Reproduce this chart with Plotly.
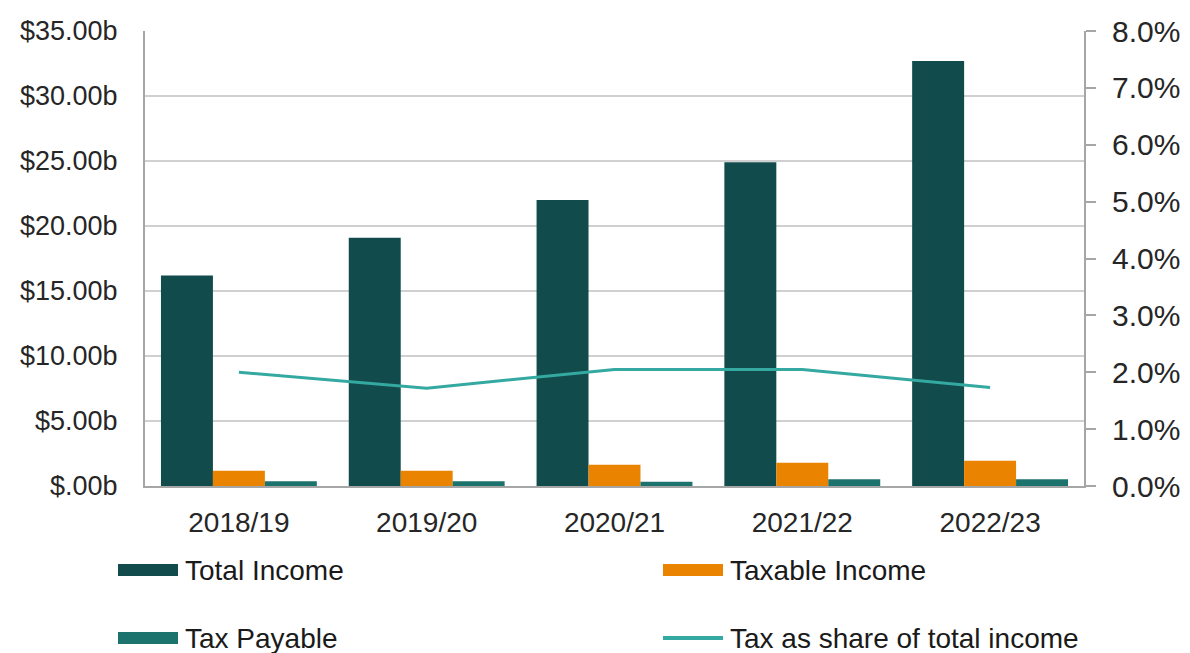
import plotly.graph_objects as go

# ---- data ----
years = ["2018/19", "2019/20", "2020/21", "2021/22", "2022/23"]
total_income = [16.2, 19.1, 22.0, 24.9, 32.7]      # $ billions
taxable_income = [1.17, 1.17, 1.63, 1.78, 1.94]    # $ billions
tax_payable = [0.36, 0.36, 0.33, 0.51, 0.51]       # $ billions
tax_share = [0.0200, 0.0172, 0.0205, 0.0205, 0.0173]

left_tickvals = [0, 5, 10, 15, 20, 25, 30, 35]
left_ticktext = ["$.00b", "$5.00b", "$10.00b", "$15.00b", "$20.00b",
                 "$25.00b", "$30.00b", "$35.00b"]

names = ["Total Income", "Taxable Income", "Tax Payable", "Tax as share of total income"]
colors = ["#114B4B", "#E98300", "#1C736D", "#33A9A1"]

FONT = "Liberation Sans, Arial, sans-serif"
W, H = 1190, 653
ML, MR, MT, MB = 145, 106, 31, 167

fig = go.Figure()
for vals, nm, col in zip([total_income, taxable_income, tax_payable], names[:3], colors[:3]):
    fig.add_trace(go.Bar(x=years, y=vals, name=nm, marker=dict(color=col, line=dict(width=0)),
                         showlegend=False))
fig.add_trace(go.Scatter(x=years, y=tax_share, name=names[3], yaxis="y2", mode="lines",
                         line=dict(color=colors[3], width=3), showlegend=False))

# ---- manual legend (pixel -> paper helpers) ----
pw, ph = W - ML - MR, H - MT - MB
def px(x):
    return (x - ML) / pw
def py(y):
    return (H - MB - y) / ph

legend_items = [
    (names[0], colors[0], "bar", 118, 570),
    (names[1], colors[1], "bar", 663, 570),
    (names[2], colors[2], "bar", 118, 638),
    (names[3], colors[3], "line", 663, 638),
]
shapes = []
annotations = []
for nm, col, kind, x0, yc in legend_items:
    if kind == "bar":
        shapes.append(dict(type="rect", xref="paper", yref="paper",
                           x0=px(x0), x1=px(x0 + 60), y0=py(yc - 6), y1=py(yc + 6),
                           fillcolor=col, line=dict(width=0)))
    else:
        shapes.append(dict(type="line", xref="paper", yref="paper",
                           x0=px(x0), x1=px(x0 + 60), y0=py(yc), y1=py(yc),
                           line=dict(color=col, width=4)))
    annotations.append(dict(text=nm, xref="paper", yref="paper", x=px(x0 + 65), y=py(yc),
                            xanchor="left", yanchor="middle", showarrow=False,
                            font=dict(family=FONT, size=28, color="#1a1a1a")))

fig.update_layout(
    width=W, height=H,
    margin=dict(l=ML, r=MR, t=MT, b=MB, pad=0, autoexpand=False),
    paper_bgcolor="white", plot_bgcolor="white",
    barmode="group", bargap=0.17, bargroupgap=0,
    font=dict(family=FONT, color="#262626"),
    xaxis=dict(showline=True, linecolor="#A6A6A6", linewidth=2, ticks="",
               tickfont=dict(size=28, color="#262626"), ticklabelstandoff=10,
               showgrid=False, automargin=False),
    yaxis=dict(range=[0, 35], tickvals=left_tickvals, ticktext=left_ticktext,
               showline=True, linecolor="#A6A6A6", linewidth=2,
               showgrid=True, gridcolor="#D0D0D0", gridwidth=2,
               ticks="", tickfont=dict(size=27, color="#262626"), ticklabelstandoff=20,
               zeroline=False, automargin=False),
    yaxis2=dict(range=[0, 0.08], dtick=0.01, tickformat=".1%", overlaying="y", side="right",
                showline=True, linecolor="#A6A6A6", linewidth=2, showgrid=False,
                ticks="outside", ticklen=10, tickwidth=2, tickcolor="#A6A6A6",
                tickfont=dict(size=30, color="#262626"), ticklabelstandoff=10,
                zeroline=False, automargin=False),
    shapes=shapes,
    annotations=annotations,
)

fig.write_html("out.html")
